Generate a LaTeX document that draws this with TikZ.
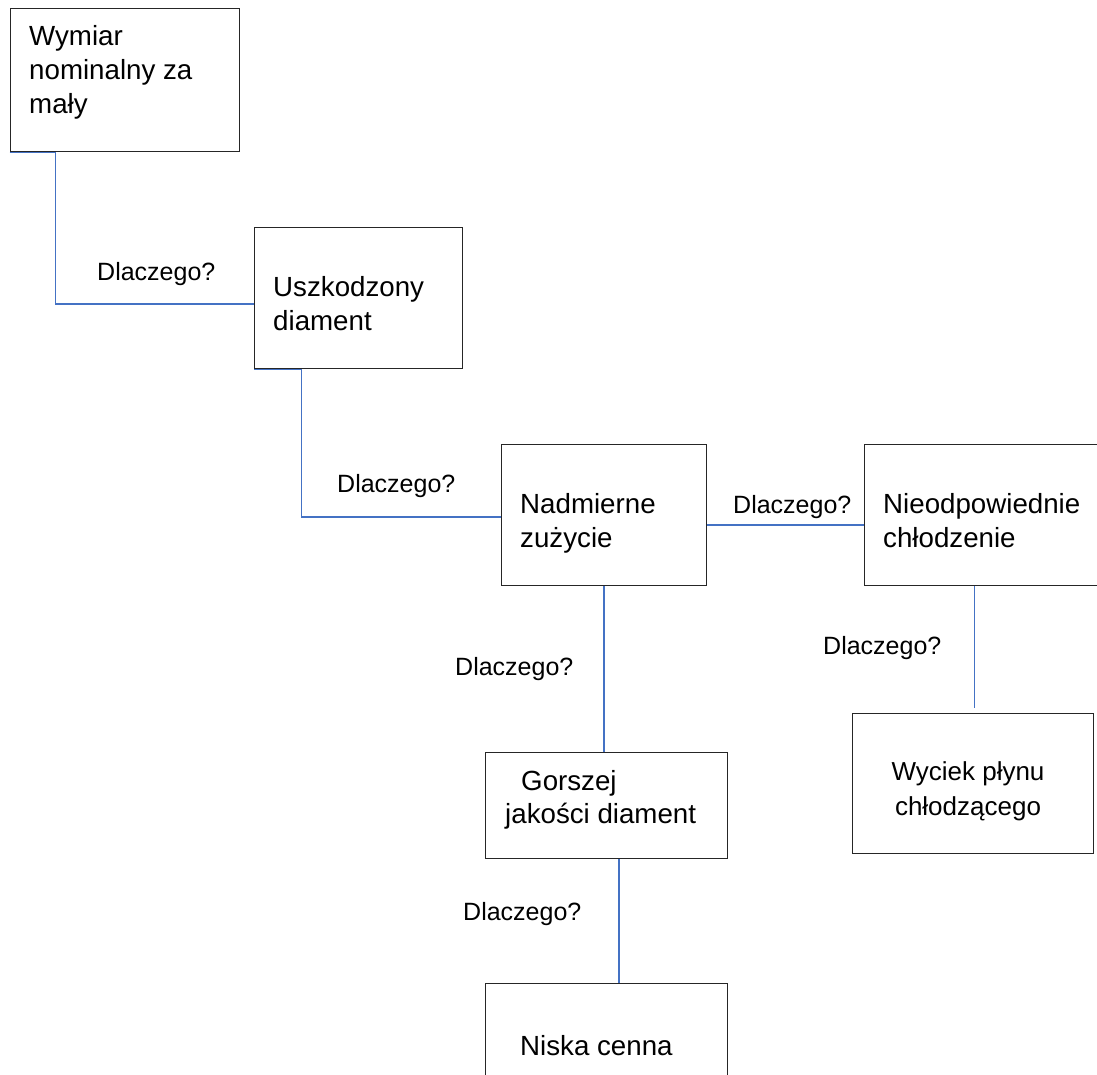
\documentclass[tikz,border=0pt]{standalone}
\usepackage{fontspec}
\setmainfont{Liberation Sans}
\usetikzlibrary{calc}
\definecolor{linkblue}{HTML}{4472C4}
\begin{document}
\begin{tikzpicture}[x=1pt,y=-1pt,
  box/.style={draw=black!85, line width=1.3pt, inner sep=0pt, anchor=north west},
  boxtext/.style={inner sep=0pt, anchor=base west, align=left,
    font=\fontsize{27.7}{34}\selectfont},
  why/.style={inner sep=0pt, anchor=base west, font=\fontsize{25}{30}\selectfont},
  link/.style={draw=linkblue, line width=1.4pt}]
\useasboundingbox (0,0) rectangle (1097,1074);
\clip (0,0) rectangle (1097,1074);

% boxes
\node[box, minimum width=229pt, minimum height=143pt] (A) at (9.5,8) {};
\node[box, minimum width=208pt, minimum height=141pt] (B) at (254,227) {};
\node[box, minimum width=205pt, minimum height=141pt] (C) at (501,444) {};
\node[box, minimum width=240pt, minimum height=141pt] (D) at (864,444) {};
\node[box, minimum width=242pt, minimum height=106pt] (E) at (485,752) {};
\node[box, minimum width=241pt, minimum height=140pt] (F) at (852,713) {};
\node[box, minimum width=242pt, minimum height=120pt] (G) at (485,983) {};

% box texts (anchored at the baseline of the last line)
\node[boxtext] (tA) at (29,113) {Wymiar\\nominalny za\\mały};
\node[boxtext] (tB) at (273,330) {Uszkodzony\\diament};
\node[boxtext] (tC) at (520,547) {Nadmierne\\zużycie};
\node[boxtext] (tD) at (883,547) {Nieodpowiednie\\chłodzenie};
\node[boxtext, font=\fontsize{27.7}{33}\selectfont] (tE) at (505,823) {\hspace*{16pt}Gorszej\\jakości diament};
\node[boxtext, anchor=base, align=center, font=\fontsize{26}{35}\selectfont] (tF) at (968,815) {Wyciek płynu\\chłodzącego};
\node[boxtext] (tG) at (520,1055) {Niska cenna};

% connectors
\draw[link] (A.south west) -- ([xshift=46pt]A.south west) |- ([yshift=-6pt]B.west);
\draw[link] (B.south west) -- ([xshift=47.5pt]B.south west) |- ([yshift=-2pt]C.west);
\draw[link] ([yshift=-10pt]C.east) -- ([yshift=-10pt]D.west);
\draw[link] (C.south) -- (C.south |- E.north);
\coordinate (dTop) at ([xshift=110.5pt]D.south west);
\draw[link] (dTop) -- ($(dTop |- F.north)+(0,-5)$);
\draw[link] ([xshift=12.5pt]E.south) -- ([xshift=12.5pt]E.south |- G.north);

% connector labels
\node[why] (w1) at (97,280) {Dlaczego?};
\node[why] (w2) at (337,492) {Dlaczego?};
\node[why] (w3) at (733,513) {Dlaczego?};
\node[why] (w4) at (455,675) {Dlaczego?};
\node[why] (w5) at (823,654) {Dlaczego?};
\node[why] (w6) at (463,920) {Dlaczego?};
\end{tikzpicture}
\end{document}
